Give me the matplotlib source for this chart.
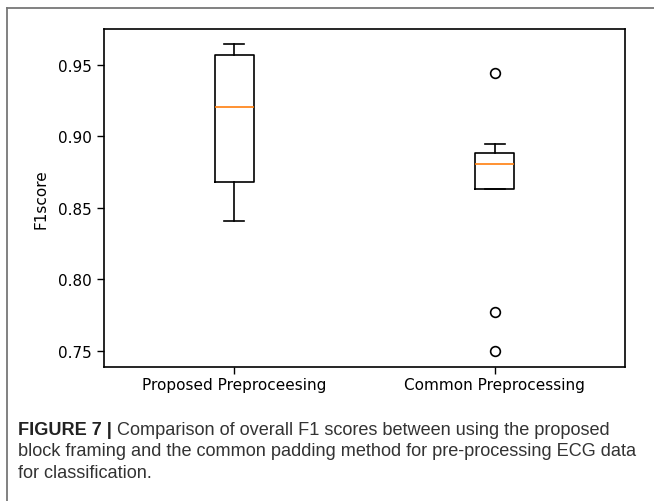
import matplotlib
matplotlib.use('Agg')
import matplotlib.pyplot as plt
from matplotlib.lines import Line2D

# box statistics
labels = ['Proposed Preproceesing', 'Common Preprocessing']
whislo = [0.841, 0.8633]
q1 = [0.868, 0.8633]
med = [0.9205, 0.8803]
q3 = [0.957, 0.888]
whishi = [0.9647, 0.8947]
fliers = [[], [0.944, 0.7773, 0.7496]]

yticks = [0.75, 0.80, 0.85, 0.90, 0.95]
caption_bold = 'FIGURE 7 |'
caption_lines = [' Comparison of overall F1 scores between using the proposed',
                 'block framing and the common padding method for pre-processing ECG data',
                 'for classification.']

W, H = 654, 502
fig = plt.figure(figsize=(W/100, H/100), dpi=100)
ax = fig.add_axes([104/W, 1-368/H, (625-104)/W, (368-30)/H])

stats = []
for i in range(len(labels)):
    stats.append(dict(label=labels[i], whislo=whislo[i], q1=q1[i], med=med[i],
                      q3=q3[i], whishi=whishi[i], fliers=fliers[i]))
ax.bxp(stats, widths=0.15,
       flierprops=dict(marker='o', markerfacecolor='none', markeredgecolor='black',
                       markersize=7, markeredgewidth=1.2),
       boxprops=dict(linewidth=1.2), whiskerprops=dict(linewidth=1.2),
       capprops=dict(linewidth=1.2), medianprops=dict(color='#ff7f0e', linewidth=1.2))

ax.set_ylim(0.7386, 0.975)
ax.set_yticks(yticks)
ax.set_yticklabels(['%.2f' % t for t in yticks])
ax.tick_params(labelsize=11, length=5, width=1)
ax.tick_params(axis='x', pad=2.5)
ax.set_ylabel('F1score', fontsize=11)
ax.yaxis.set_label_coords(-0.106, 0.5)
for s in ax.spines.values():
    s.set_linewidth(1.2)

# outer frame
fig.add_artist(Line2D([7/W, 7/W], [0, 1-8.7/H], color='#777777', lw=1.3))
fig.add_artist(Line2D([7/W, 1], [1-8.7/H, 1-8.7/H], color='#777777', lw=1.3))

# caption
cfont = ['Liberation Sans', 'DejaVu Sans']
fs = 13.1
x0 = 18/W
t = fig.text(x0, 1-431/H, caption_bold, fontsize=fs, fontweight='bold',
             family=cfont, color='#222222', va='center')
fig.canvas.draw()
bb = t.get_window_extent(fig.canvas.get_renderer())
fig.text(bb.x1/W, 1-431/H, caption_lines[0], fontsize=fs, family=cfont,
         color='#333333', va='center')
fig.text(x0, 1-452/H, caption_lines[1], fontsize=fs, family=cfont,
         color='#333333', va='center')
fig.text(x0, 1-473/H, caption_lines[2], fontsize=fs, family=cfont,
         color='#333333', va='center')

fig.savefig('out.png', dpi=100)
